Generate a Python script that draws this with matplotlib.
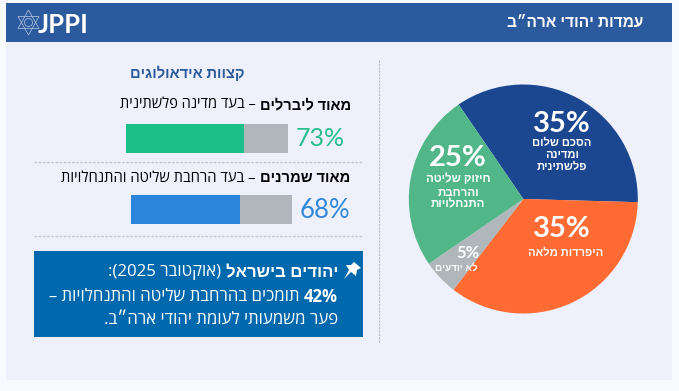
import re
import matplotlib
matplotlib.use('Agg')
import matplotlib.pyplot as plt
from matplotlib.patches import Rectangle, Polygon, Circle

# Data
pie_values = [35, 35, 5, 25]
pie_colors = ['#1B4690', '#FF6B33', '#B0B7BA', '#52B788']
liberal_support = [73, 27]
conservative_support = [68, 32]

title_text = 'עמדות יהודי ארה״ב'
left_title = 'קצוות אידאולוגים'
liberal_bold = 'מאוד ליברלים'
liberal_rest = ' – בעד מדינה פלשתינית'
conservative_bold = 'מאוד שמרנים'
conservative_rest = ' – בעד הרחבת שליטה והתנחלויות'
box_bold = 'יהודים בישראל'
box_rest = ' (אוקטובר 2025):'
box_line2_bold = '42%'
box_line2_rest = ' תומכים בהרחבת שליטה והתנחלויות –'
box_line3 = 'פער משמעותי לעומת יהודי ארה״ב.'

W, H = 679, 391
HEB = ['Open Sans', 'Liberation Sans', 'DejaVu Sans']
NUM = ['Lato', 'DejaVu Sans']
NAVY = '#2B5A9E'


def rtl(text):
    # matplotlib has no bidi, so turn logical Hebrew into visual order
    flipped = text[::-1]
    flipped = flipped.translate(str.maketrans('()', ')('))
    return re.sub(r'[%\d]+', lambda m: m.group(0)[::-1], flipped)


def px_axes(fig, x0, y0, x1, y1):
    # Axes placed by pixel box, y measured from the top of the picture
    return fig.add_axes([x0 / W, 1 - y1 / H, (x1 - x0) / W, (y1 - y0) / H])


def runs_right(ax, x, y, runs, color, size):
    # Draw (text, weight) runs going leftwards from x
    renderer = ax.figure.canvas.get_renderer()
    for text, weight in runs:
        t = ax.text(x, y, rtl(text), ha='right', va='center', color=color,
                    fontsize=size, fontweight=weight, family=HEB)
        box = t.get_window_extent(renderer)
        x -= box.width


def draw_bar(fig, box, values, color):
    ax = px_axes(fig, *box)
    ax.barh([0], [values[0]], height=1, color=color)
    ax.barh([0], [values[1]], left=[values[0]], height=1, color='#B0B7BA')
    ax.set_xlim(0, sum(values))
    ax.set_ylim(-0.5, 0.5)
    ax.axis('off')


def main():
    fig = plt.figure(figsize=(W / 100, H / 100), dpi=100, facecolor='#F9FAFE')
    ax = fig.add_axes([0, 0, 1, 1])
    ax.set_xlim(0, W)
    ax.set_ylim(H, 0)
    ax.axis('off')

    # Panel and header
    ax.add_patch(Rectangle((6, 3), 666, 377, color='#EEF1FB', lw=0))
    ax.add_patch(Rectangle((6, 3), 666, 39, color=NAVY, lw=0))
    ax.text(643, 23, rtl(title_text), ha='right', va='center', color='white',
            fontsize=11.2, fontweight='bold', family=HEB)

    # Logo
    ax.add_patch(Polygon([(28.5, 10), (18, 28.5), (39, 28.5)], fill=False, ec='#B9C9E2', lw=0.5))
    ax.add_patch(Polygon([(28.5, 35), (18, 16.5), (39, 16.5)], fill=False, ec='#B9C9E2', lw=0.5))
    ax.add_patch(Circle((28.5, 22.5), 4, fill=False, ec='#B9C9E2', lw=0.5))
    ax.text(38, 25, 'JPPI', ha='left', va='center', color='white',
            fontsize=18.5, fontweight='bold', family=NUM)

    # Left column
    ax.text(187.5, 73, rtl(left_title), ha='center', va='center', color=NAVY,
            fontsize=10.6, fontweight='bold', family=HEB)
    runs_right(ax, 351, 105, [(liberal_bold, 'bold'), (liberal_rest, 'normal')], 'black', 10.5)
    draw_bar(fig, (126, 124, 288, 153), liberal_support, '#1CBF87')
    ax.text(296, 139, f'{liberal_support[0]}%', ha='left', va='center', color='#27BF8B',
            fontsize=18, family=NUM)
    ax.plot([34, 363], [162, 162], color='#C4C7CC', lw=1, ls='--', dashes=(2, 1))

    runs_right(ax, 350, 178, [(conservative_bold, 'bold'), (conservative_rest, 'normal')], 'black', 10.6)
    draw_bar(fig, (131, 195, 292, 224), conservative_support, '#2B86DB')
    ax.text(300, 210, f'{conservative_support[0]}%', ha='left', va='center', color='#3288DC',
            fontsize=18.5, family=NUM)
    ax.plot([34, 363], [236, 236], color='#C4C7CC', lw=1, ls='--', dashes=(2, 1))

    # Callout box
    ax.add_patch(Rectangle((34, 251), 329, 86, color='#0068AC', lw=0))
    ax.add_patch(Polygon([(354, 262), (361, 268), (357, 270), (356, 276), (351, 272),
                          (344, 279), (349, 270), (346, 265), (351, 265)], color='white', lw=0))
    runs_right(ax, 338, 272, [(box_bold, 'bold'), (box_rest, 'normal')], 'white', 12.1)
    runs_right(ax, 338, 297, [(box_line2_bold, 'bold'), (box_line2_rest, 'normal')], 'white', 12.1)
    runs_right(ax, 338, 320, [(box_line3, 'normal')], 'white', 12.1)

    # Divider
    ax.plot([379, 379], [60, 343], color='#B9BCC2', lw=0.8, ls='--', dashes=(2, 1))

    # Pie
    cx, cy, r = 523.3, 199, 114.5
    pie_ax = px_axes(fig, cx - r, cy - r, cx + r, cy + r)
    pie_ax.pie(pie_values, colors=pie_colors, startangle=124.4, counterclock=False, radius=1)
    pie_ax.set_xlim(-1, 1)
    pie_ax.set_ylim(-1, 1)

    # Pie labels sit on top of everything, so use one more clear axes
    top = fig.add_axes([0, 0, 1, 1], facecolor='none')
    top.set_xlim(0, W)
    top.set_ylim(H, 0)
    top.axis('off')

    def pct(x, y, value, size=21):
        top.text(x, y, f'{value}%', ha='center', va='center', color='white',
                 fontsize=size, fontweight='bold', family=NUM)

    def label(x, y, text, size=8):
        top.text(x, y, rtl(text), ha='center', va='center', color='white',
                 fontsize=size, fontweight='bold', family=HEB)

    pct(562, 124, pie_values[0])
    for y, line in zip([144, 156, 168], ['הסכם שלום', 'ומדינה', 'פלשתינית']):
        label(562, y, line)
    pct(562, 229, pie_values[1])
    label(566, 253, 'היפרדות מלאה')
    pct(468, 253, pie_values[2], 12)
    label(456, 268, 'לא יודעים', 7)
    pct(458, 158, pie_values[3])
    for y, line in zip([179, 192, 204], ['חיזוק שליטה', 'והרחבת', 'התנחלויות']):
        label(458, y, line, 8.3)

    fig.savefig('out.png', dpi=100, facecolor=fig.get_facecolor())


if __name__ == "__main__":
    main()
